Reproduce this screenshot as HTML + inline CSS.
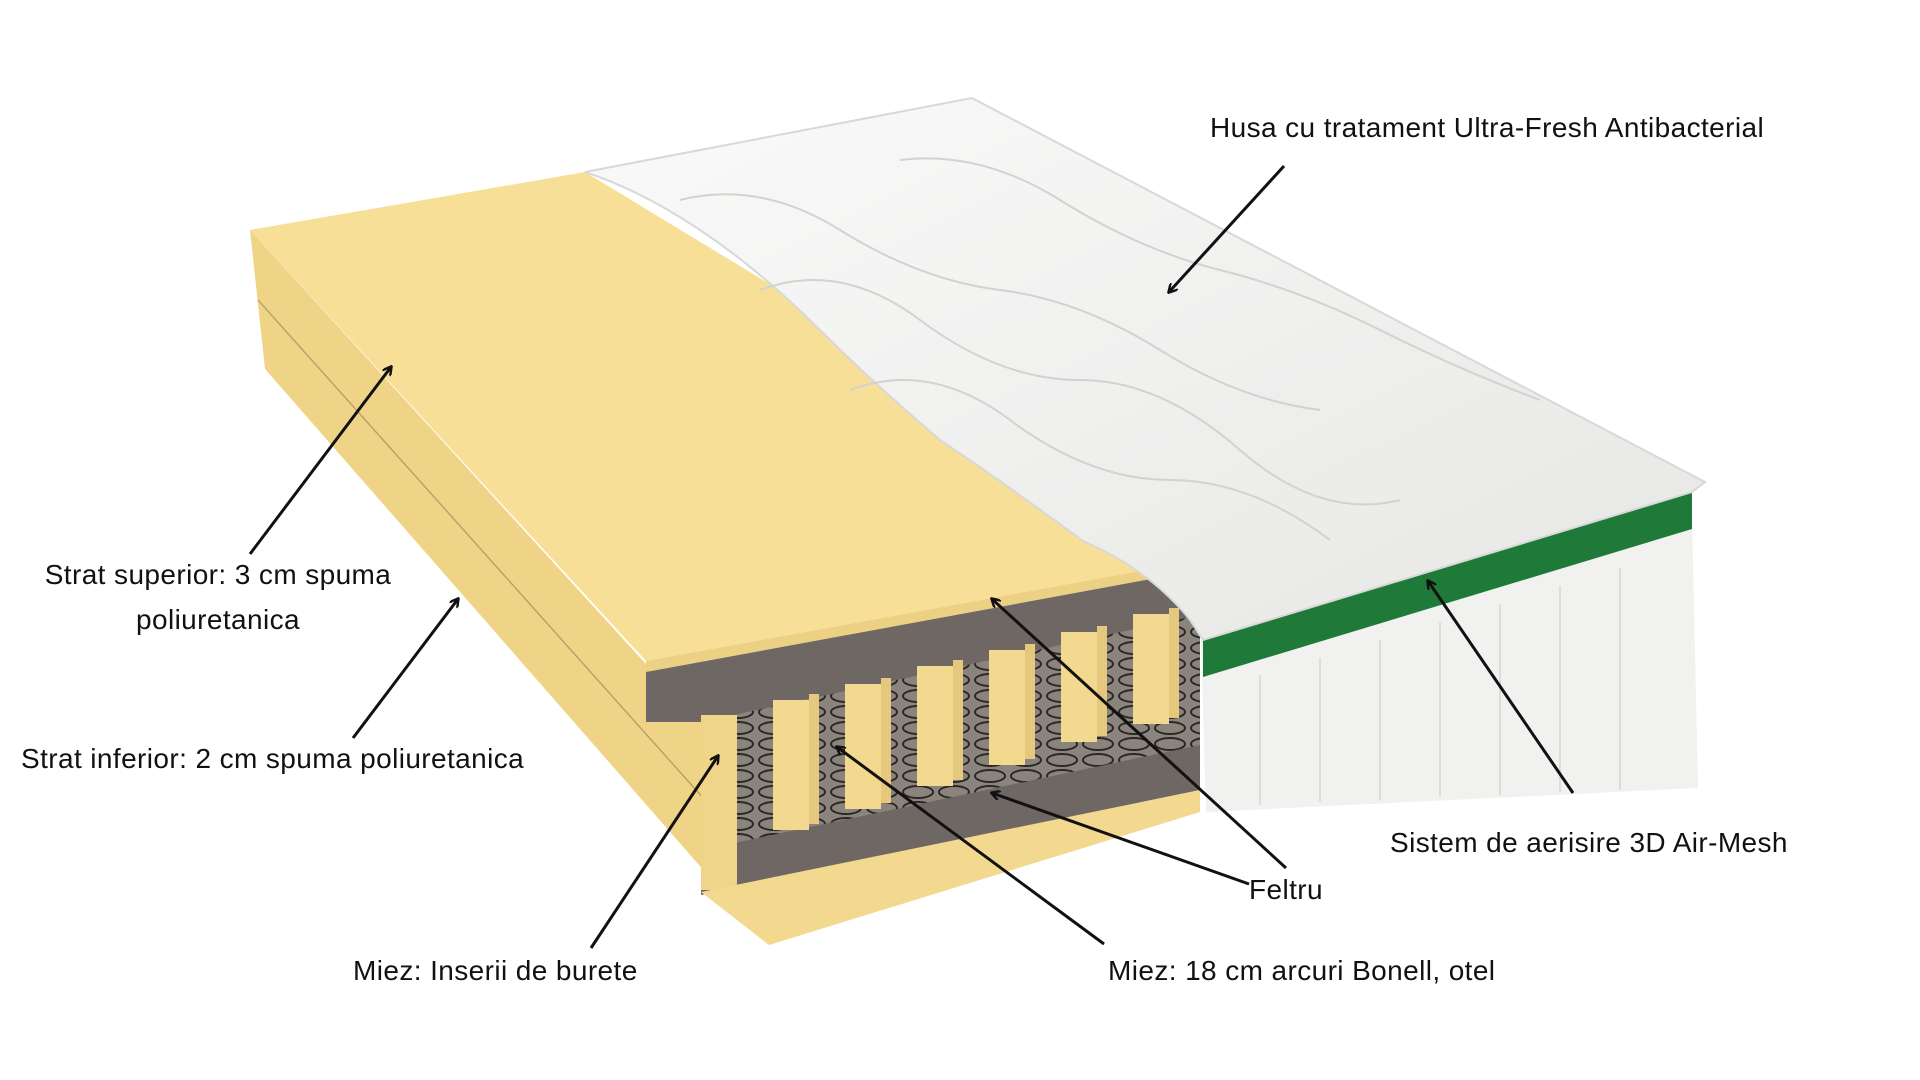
<!DOCTYPE html>
<html><head><meta charset="utf-8"><style>
html,body{margin:0;padding:0;background:#fff;width:1920px;height:1080px;overflow:hidden}
svg{display:block}
text{font-family:"Liberation Sans",sans-serif;font-size:28px;letter-spacing:0.4px;fill:#111}
</style></head><body>
<svg width="1920" height="1080" viewBox="0 0 1920 1080" xmlns="http://www.w3.org/2000/svg">
<defs>
<marker id="ah" markerWidth="10" markerHeight="10" refX="8" refY="5" orient="auto" markerUnits="userSpaceOnUse">
<path d="M0,0 L9,5 L0,10" fill="none" stroke="#111" stroke-width="2.4"/></marker>
<pattern id="coil" width="36" height="16" patternUnits="userSpaceOnUse">
<rect width="36" height="16" fill="#8a847c"/>
<ellipse cx="18" cy="8" rx="15" ry="6" fill="none" stroke="#2a2826" stroke-width="2"/>
</pattern>
<linearGradient id="cov" x1="0" y1="0" x2="1" y2="1">
<stop offset="0" stop-color="#fafafa"/><stop offset="1" stop-color="#e6e6e4"/></linearGradient>
</defs>
<!-- left side face of foam -->
<polygon points="250,230 646,664 701,716 701,890 769,945 265,369" fill="#efd488"/>
<line x1="258" y1="300" x2="705" y2="800" stroke="#b9a26a" stroke-width="1.5"/>
<!-- top foam face -->
<polygon points="250,230 585,172 1200,545 1200,560 646,661" fill="#f7df98"/>
<polygon points="646,661 1200,560 1200,570 646,672" fill="#ecd084"/>
<!-- coil area -->
<polygon points="701,716 1200,605 1200,750 701,860" fill="url(#coil)"/>
<!-- top felt band -->
<polygon points="646,672 1200,570 1200,615 701,722 646,722" fill="#6f6763"/>
<!-- bottom felt band -->
<polygon points="701,850 1200,745 1200,790 701,895" fill="#6f6763"/>
<!-- inserts -->
<g fill="#f3d88f">
<rect x="701" y="715" width="36" height="175" fill="#f0d48a"/>
<rect x="773" y="700" width="36" height="130"/><rect x="809" y="694" width="10" height="130" fill="#e5c87e"/>
<rect x="845" y="684" width="36" height="125"/><rect x="881" y="678" width="10" height="125" fill="#e5c87e"/>
<rect x="917" y="666" width="36" height="120"/><rect x="953" y="660" width="10" height="120" fill="#e5c87e"/>
<rect x="989" y="650" width="36" height="115"/><rect x="1025" y="644" width="10" height="115" fill="#e5c87e"/>
<rect x="1061" y="632" width="36" height="110"/><rect x="1097" y="626" width="10" height="110" fill="#e5c87e"/>
<rect x="1133" y="614" width="36" height="110"/><rect x="1169" y="608" width="10" height="110" fill="#e5c87e"/>
</g>
<!-- bottom foam slab -->
<polygon points="701,892 1200,790 1200,812 769,945" fill="#f3d88f"/>
<!-- cover front side -->
<polygon points="1200,603 1692,517 1698,788 1206,812" fill="#f1f1ef"/>
<polygon points="1203,640 1692,492 1692,529 1203,677" fill="#1f7a3a"/>
<g stroke="#dcdcda" stroke-width="2">
<line x1="1260" y1="675" x2="1260" y2="805"/><line x1="1320" y1="658" x2="1320" y2="802"/>
<line x1="1380" y1="640" x2="1380" y2="800"/><line x1="1440" y1="622" x2="1440" y2="797"/>
<line x1="1500" y1="604" x2="1500" y2="795"/><line x1="1560" y1="586" x2="1560" y2="792"/>
<line x1="1620" y1="568" x2="1620" y2="790"/></g>
<!-- cover top -->
<path d="M585,172 L972,98 L1705,482 L1692,492 L1203,640 L1190,620 Q1150,570 1083,541 Q1000,480 940,440 Q870,380 820,330 Q760,270 700,230 Q640,190 585,172 Z" fill="url(#cov)" stroke="#d8d8d6" stroke-width="2"/>
<g fill="none" stroke="#d2d2d0" stroke-width="2">
<path d="M680,200 Q760,180 840,230 T1000,290 T1160,350 T1320,410"/>
<path d="M760,290 Q840,260 920,320 T1080,380 T1240,450 T1400,500"/>
<path d="M850,390 Q930,360 1010,420 T1170,480 T1330,540"/>
<path d="M900,160 Q980,150 1060,200 T1220,270 T1380,330 T1540,400"/>
</g>
<!-- labels -->
<text x="1210" y="137">Husa cu tratament Ultra-Fresh Antibacterial</text>
<text x="218" y="584" text-anchor="middle">Strat superior: 3 cm spuma</text>
<text x="218" y="629" text-anchor="middle">poliuretanica</text>
<text x="21" y="768">Strat inferior: 2 cm spuma poliuretanica</text>
<text x="353" y="980">Miez: Inserii de burete</text>
<text x="1108" y="980">Miez: 18 cm arcuri Bonell, otel</text>
<text x="1249" y="899">Feltru</text>
<text x="1390" y="852">Sistem de aerisire 3D Air-Mesh</text>
<!-- arrows -->
<g stroke="#111" stroke-width="3" fill="none" marker-end="url(#ah)">
<line x1="1284" y1="166" x2="1169" y2="292"/>
<line x1="250" y1="554" x2="391" y2="367"/>
<line x1="353" y1="738" x2="458" y2="599"/>
<line x1="591" y1="948" x2="718" y2="756"/>
<line x1="1104" y1="944" x2="837" y2="747"/>
<line x1="1286" y1="868" x2="992" y2="599"/>
<line x1="1249" y1="884" x2="992" y2="793"/>
<line x1="1573" y1="793" x2="1428" y2="581"/>
</g>
</svg>
</body></html>
